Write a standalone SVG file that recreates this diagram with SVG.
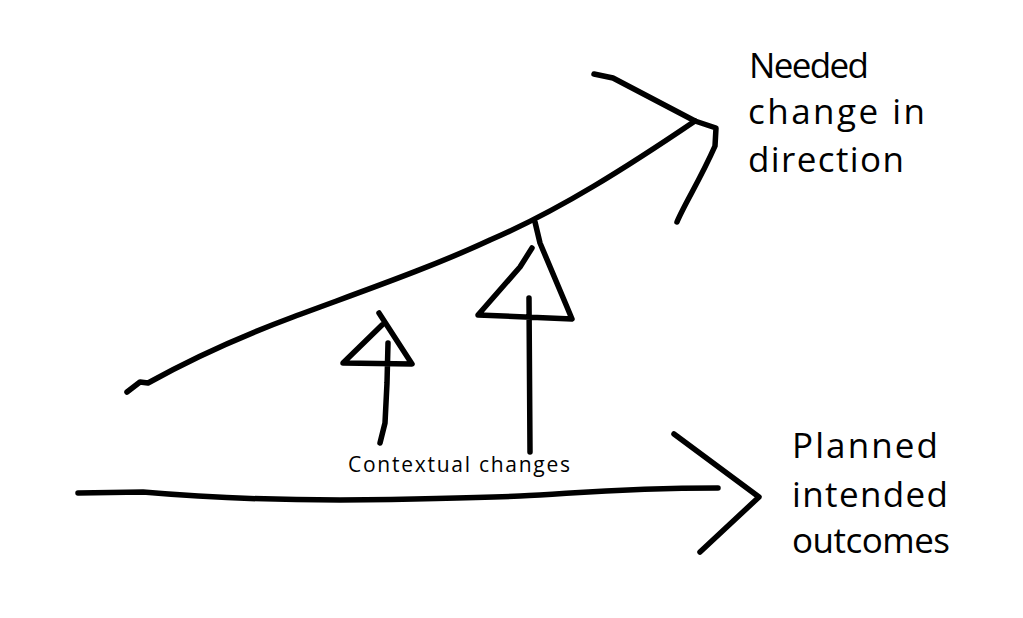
<svg xmlns="http://www.w3.org/2000/svg" width="1023" height="618" viewBox="0 0 1023 618">
<style>
.ln{fill:none;stroke:#000;stroke-width:5.5;stroke-linecap:round;stroke-linejoin:round}
.lbl{font-family:"Open Sans","Noto Sans",sans-serif;fill:#000}
.big{font-size:35px}
.small{font-size:21px}
</style>
<rect width="1023" height="618" fill="#fff"/>
<g id="connectors">
<path id="direction-curve" class="ln" d="M127,392 L140,382 L148,383 C200,354 250,333 293,317 C360,292 430,268 490,240 C560,210 630,165 695,121"/>
<path id="direction-head" class="ln" d="M594,74 L613,78 L695,121 L716,128 L715,146 C700,180 684,205 677,222"/>
<path id="planned-line" class="ln" d="M78,493 L143,492 C200,497 260,500 340,500 C420,499 470,498 520,496 C580,493 620,488 718,488"/>
<path id="planned-head" class="ln" d="M674,434 L759,497 L700,552"/>
<path id="small-arrow" class="ln" d="M380,443 L385,423 L387,383 L388,343 M379,313 L412,364 L343,363 L382,325"/>
<path id="big-arrow" class="ln" d="M530,452 L529,298 M535,222 L540,243 L567,307 L572,319 L478,315 L520,267 L532,248"/>
</g>
<g id="needed-label">
<text class="lbl big" x="749" y="78" textLength="120">Needed</text>
<text class="lbl big" x="748" y="124" textLength="177">change in</text>
<text class="lbl big" x="748" y="172" textLength="156">direction</text>
</g>
<g id="planned-label">
<text class="lbl big" x="792" y="458" textLength="146">Planned</text>
<text class="lbl big" x="792" y="507" textLength="156">intended</text>
<text class="lbl big" x="792" y="553" textLength="158">outcomes</text>
</g>
<g id="contextual-label">
<text class="lbl small" x="348" y="472" textLength="222">Contextual changes</text>
</g>
</svg>
